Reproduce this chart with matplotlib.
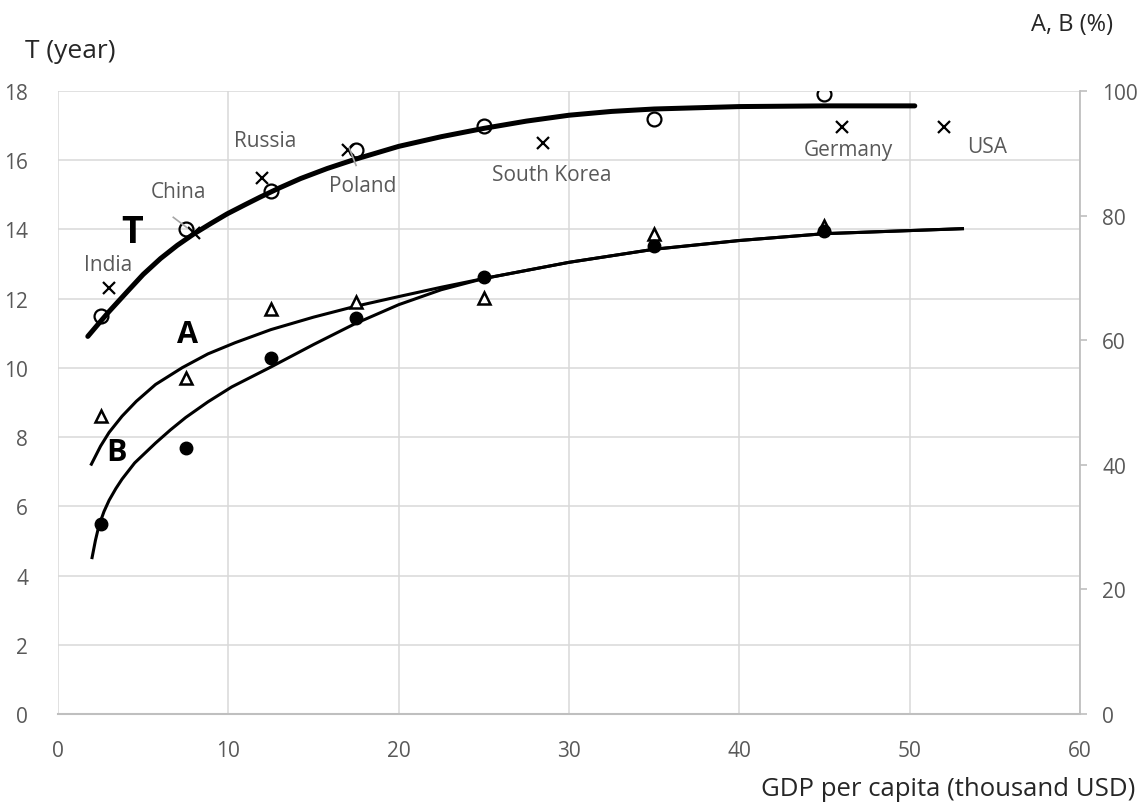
import matplotlib
matplotlib.use('Agg')
import matplotlib.pyplot as plt

plt.rcParams['font.family'] = ['Open Sans', 'DejaVu Sans']

# measured points, T in years, A/B in percent
gdp = [2.5, 7.5, 12.5, 17.5, 25, 35, 45]
t_mean = [11.5, 14.0, 15.1, 16.3, 17.0, 17.2, 17.9]
a_pct = [47.8, 53.9, 65.0, 66.1, 66.8, 77.0, 78.3]
b_pct = [30.5, 42.7, 57.1, 63.5, 70.2, 75.1, 77.6]

# individual countries (T)
countries = ['India', 'China', 'Russia', 'Poland', 'South Korea', 'Germany', 'USA']
c_gdp = [3, 8, 12, 17, 28.5, 46, 52]
c_t = [12.3, 13.9, 15.5, 16.3, 16.5, 16.95, 16.95]
# where each country name sits
lab_x = [2.94, 7.05, 12.16, 17.9, 29.0, 46.4, 54.55]
lab_y = [13.0, 15.11, 16.56, 15.26, 15.6, 16.32, 16.41]

# hand drawn trend curves
t_fit_x = [1.75, 2.3, 3.0, 4.06, 5.0, 6.02, 7.0, 7.97, 9.0, 9.93, 11.0, 11.89, 13.0, 14.24,
           15.8, 17.4, 20, 22.5, 25, 27.5, 30, 32.5, 35, 40, 45, 50.3]
t_fit_y = [10.91, 11.23, 11.63, 12.2, 12.7, 13.16, 13.54, 13.87, 14.18, 14.45, 14.72, 14.94, 15.2, 15.47,
           15.76, 16.02, 16.4, 16.68, 16.92, 17.13, 17.3, 17.41, 17.48, 17.55, 17.57, 17.57]

a_fit_x = [1.96, 2.5, 3.0, 3.76, 4.6, 5.73, 7.3, 8.8, 10.4, 12.5, 15, 17.4, 20, 22.5,
           25, 30, 35, 40, 45, 53.1]
a_fit_y = [40.1, 43.0, 45.2, 47.8, 50.2, 52.9, 55.6, 57.8, 59.6, 61.7, 63.7, 65.4, 67.0, 68.5,
           69.9, 72.5, 74.6, 76.0, 77.1, 77.9]

b_fit_x = [2.0, 2.2, 2.4, 2.7, 3.0, 3.4, 3.76, 4.5, 5.73, 6.6, 7.5, 8.8, 10.2, 12.5, 15, 17.4, 20, 22.5,
           25, 30, 35, 40, 45, 53.1]
b_fit_y = [25.1, 27.9, 30.2, 32.5, 34.3, 36.2, 37.7, 40.3, 43.5, 45.6, 47.6, 50.1, 52.5, 55.7, 59.3, 62.6,
           65.7, 68.1, 69.9, 72.5, 74.6, 76.0, 77.1, 77.9]

grey = '#595959'
grid_c = '#d9d9d9'
axis_c = '#bfbfbf'

fig = plt.figure(figsize=(11.46, 8.12), dpi=100)
ax = fig.add_axes([58 / 1146, 97 / 812, 1022 / 1146, 623 / 812])
ax2 = ax.twinx()

ax.set_xlim(0, 60)
ax.set_ylim(0, 18)
ax2.set_ylim(0, 100)
ax.set_xticks(range(0, 61, 10))
ax.set_yticks(range(0, 19, 2))
ax2.set_yticks(range(0, 101, 20))

ax.grid(True, color=grid_c, linewidth=1.1)
ax.set_axisbelow(True)
for s in ['top', 'left']:
    ax.spines[s].set_visible(False)
    ax2.spines[s].set_visible(False)
ax.spines['right'].set_visible(False)
ax2.spines['bottom'].set_visible(False)
ax.spines['bottom'].set_color(axis_c)
ax.spines['bottom'].set_linewidth(1.5)
ax2.spines['right'].set_color(axis_c)
ax2.spines['right'].set_linewidth(1.3)

ax.tick_params(axis='both', length=0, labelsize=15, labelcolor=grey)
ax.tick_params(axis='y', pad=21.5)
ax.tick_params(axis='x', pad=19)
ax2.tick_params(axis='y', length=5, width=1.2, color=axis_c, direction='out',
                labelsize=15, labelcolor=grey, pad=11)

# T
ax.plot(t_fit_x, t_fit_y, color='black', linewidth=3.6, solid_capstyle='round', zorder=3)
ax.plot(gdp, t_mean, 'o', ms=10, mfc='none', mec='black', mew=1.6, zorder=4)
ax.plot(c_gdp, c_t, 'x', ms=9, mec='black', mew=1.6, zorder=4)

# A and B
ax2.plot(a_fit_x, a_fit_y, color='black', linewidth=2.2, zorder=3)
ax2.plot(b_fit_x, b_fit_y, color='black', linewidth=2.2, zorder=3)
ax2.plot(gdp, a_pct, '^', ms=9, mfc='white', mec='black', mew=1.8, zorder=4)
ax2.plot(gdp, b_pct, 'o', ms=9, mfc='black', mec='black', zorder=5)

for name, x, y in zip(countries, lab_x, lab_y):
    ax.text(x, y, name, fontsize=15, color=grey, ha='center', va='center')

# short pointers for China and Poland
ax.plot([6.77, 7.55], [14.35, 14.06], color='#a6a6a6', linewidth=1.2, zorder=5)
ax.plot([17.1, 17.5], [16.35, 15.85], color='#a6a6a6', linewidth=1.2, zorder=5)

ax.text(4.35, 13.93, 'T', fontsize=27, fontweight='bold', ha='center', va='center')
ax.text(7.63, 10.98, 'A', fontsize=22, fontweight='bold', ha='center', va='center')
ax.text(3.41, 7.57, 'B', fontsize=22, fontweight='bold', ha='center', va='center')

fig.text(25 / 1146, 1 - 52 / 812, 'T (year)', fontsize=19, color='#262626', ha='left', va='center')
fig.text(1072 / 1146, 1 - 25 / 812, 'A, B (%)', fontsize=17, color='#262626', ha='center', va='center')
fig.text(1135 / 1146, 1 - 790 / 812, 'GDP per capita (thousand USD)', fontsize=18.5, color='#262626',
         ha='right', va='center')

fig.savefig('out.png', dpi=100)
